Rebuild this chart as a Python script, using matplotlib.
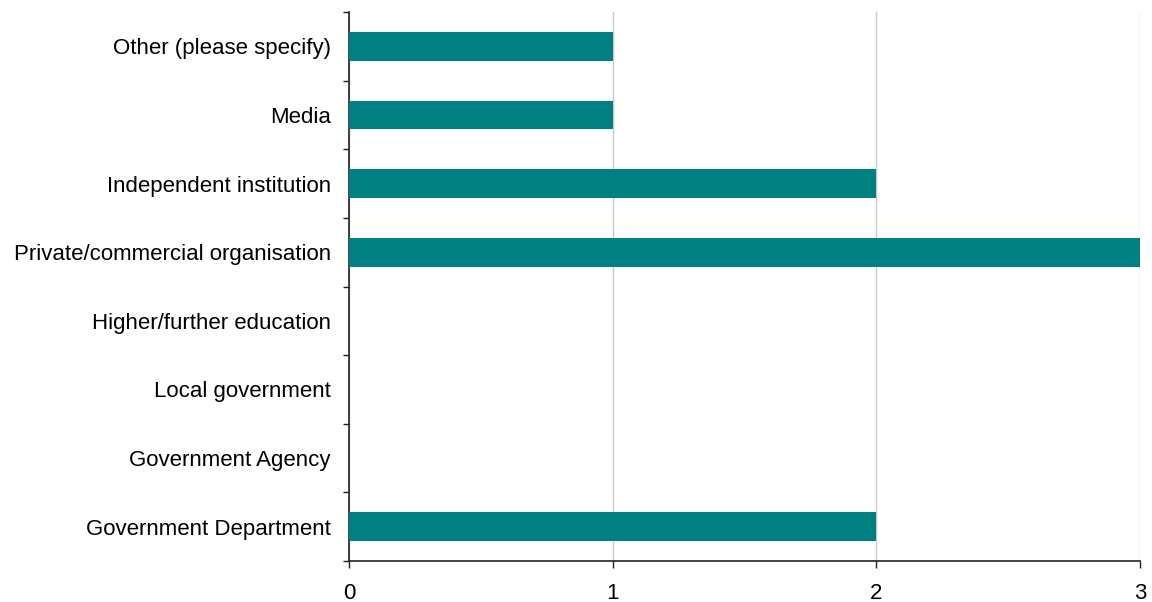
import matplotlib
matplotlib.use("Agg")
import matplotlib.pyplot as plt
import numpy as np

categories = [
    "Government Department",
    "Government Agency",
    "Local government",
    "Higher/further education",
    "Private/commercial organisation",
    "Independent institution",
    "Media",
    "Other (please specify)",
]
counts = [2, 0, 0, 0, 3, 2, 1, 1]
x_ticks = [0, 1, 2, 3]

plt.rcParams["font.family"] = ["Liberation Sans", "DejaVu Sans"]

fig = plt.figure(figsize=(11.52, 6.02), dpi=100)
ax = fig.add_axes([349 / 1152, 1 - 561 / 602, (1140 - 349) / 1152, (561 - 12) / 602])

y = np.arange(len(categories))
ax.barh(y, counts, height=0.42, color="#008080", zorder=3)

ax.set_xlim(0, 3)
ax.set_ylim(-0.5, len(categories) - 0.5)
ax.set_xticks(x_ticks)
ax.set_xticklabels([str(t) for t in x_ticks], fontsize=16)
ax.xaxis.grid(True, color="#c8c8c8", linewidth=1, zorder=0)

ax.set_yticks(y)
ax.set_yticklabels(categories, fontsize=16)
ax.tick_params(axis="y", length=0, pad=13)
ax.set_yticks(np.arange(-0.5, len(categories), 1), minor=True)
ax.tick_params(axis="y", which="minor", length=4.5, width=1, color="#222222")
ax.tick_params(axis="x", length=5, width=1, color="#222222", pad=11)

for side in ["top", "right"]:
    ax.spines[side].set_visible(False)
for side in ["left", "bottom"]:
    ax.spines[side].set_color("#222222")
    ax.spines[side].set_linewidth(1.2)

fig.savefig("out.png", dpi=100)
